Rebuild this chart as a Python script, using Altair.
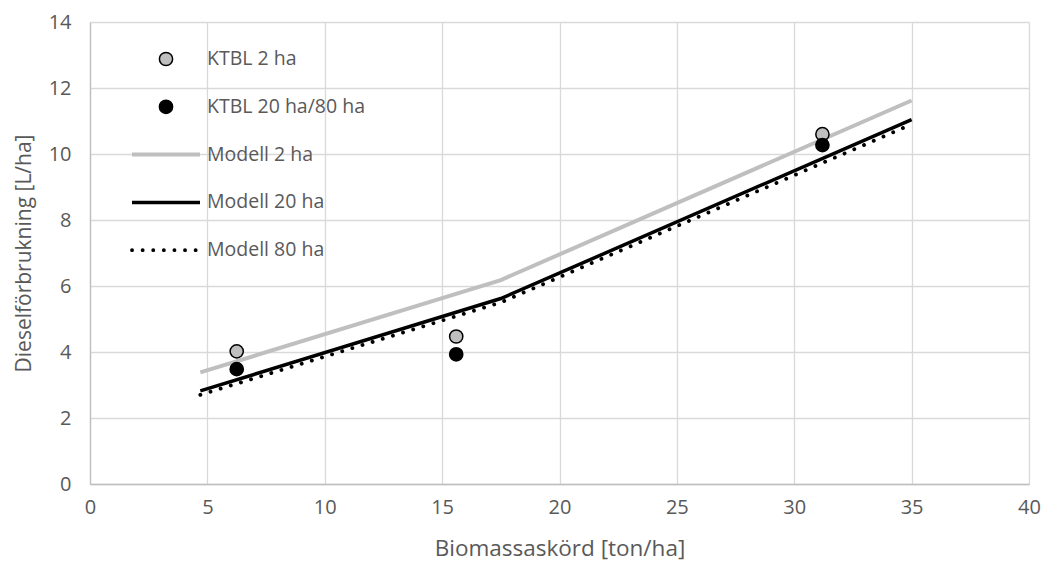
import altair as alt
import pandas as pd

# KTBL reference values
ktbl_x = [6.25, 15.6, 31.2]
ktbl_2ha = [4.02, 4.47, 10.6]
ktbl_20_80ha = [3.48, 3.93, 10.27]

# Model curves (break point near 17.5 ton/ha)
model_x = [4.7, 17.5, 35.0]
model_2ha = [3.38, 6.18, 11.62]
model_20ha = [2.82, 5.62, 11.04]
model_80ha = [2.70, 5.50, 10.90]

FONT = "Open Sans"
TXT = "#595959"
GRID = "#d9d9d9"
GREY = "#bfbfbf"

x_scale = alt.Scale(domain=[0, 40], nice=False)
y_scale = alt.Scale(domain=[0, 14], nice=False)
x_axis = alt.Axis(title="Biomassaskörd [ton/ha]", values=list(range(0, 41, 5)), labelFlush=False)
y_axis = alt.Axis(title="Dieselförbrukning [L/ha]", values=list(range(0, 15, 2)), labelFlush=False)


def line_layer(ys, color, width, dash=None):
    df = pd.DataFrame({"x": model_x, "y": ys})
    kw = dict(color=color, strokeWidth=width)
    if dash:
        kw.update(strokeDash=dash, strokeCap="round")
    return alt.Chart(df).mark_line(**kw).encode(
        x=alt.X("x:Q", scale=x_scale, axis=x_axis),
        y=alt.Y("y:Q", scale=y_scale, axis=y_axis),
    )


def point_layer(ys, fill):
    df = pd.DataFrame({"x": ktbl_x, "y": ys})
    return alt.Chart(df).mark_point(
        filled=True, fill=fill, stroke="black", strokeWidth=1.5, size=175, opacity=1
    ).encode(x=alt.X("x:Q", scale=x_scale), y=alt.Y("y:Q", scale=y_scale))


layers = [
    line_layer(model_2ha, GREY, 4),
    line_layer(model_80ha, "black", 3.8, [0.1, 10.5]),
    line_layer(model_20ha, "black", 3.5),
    point_layer(ktbl_2ha, GREY),
    point_layer(ktbl_20_80ha, "black"),
]

# Legend inside the plot area, top left
legend_labels = ["KTBL 2 ha", "KTBL 20 ha/80 ha", "Modell 2 ha", "Modell 20 ha", "Modell 80 ha"]
row0, row_step = 37, 47.8
sym_x, line_x0, line_x1, text_x = 76, 42, 110, 117
anchor = alt.Chart(pd.DataFrame({"a": [0]}))
for i, lab in enumerate(legend_labels):
    yy = row0 + i * row_step
    layers.append(
        anchor.mark_text(align="left", baseline="middle", font=FONT, fontSize=19.5, color=TXT).encode(
            x=alt.value(text_x), y=alt.value(yy), text=alt.value(lab)
        )
    )
    if i < 2:
        fill = GREY if i == 0 else "black"
        layers.append(
            anchor.mark_point(filled=True, fill=fill, stroke="black", strokeWidth=1.5, size=175, opacity=1).encode(
                x=alt.value(sym_x), y=alt.value(yy)
            )
        )
    else:
        kw = {
            2: dict(color=GREY, strokeWidth=4),
            3: dict(color="black", strokeWidth=3.5),
            4: dict(color="black", strokeWidth=3.8, strokeDash=[0.1, 10.5], strokeCap="round"),
        }[i]
        layers.append(
            anchor.mark_rule(**kw).encode(x=alt.value(line_x0), x2=alt.value(line_x1), y=alt.value(yy))
        )

chart = alt.layer(*layers).properties(
    width=939,
    height=462,
    autosize=alt.AutoSizeParams(type="none"),
    padding={"left": 90, "top": 22, "right": 14, "bottom": 77},
).configure_view(stroke=None).configure_axis(
    grid=True,
    gridColor=GRID,
    gridWidth=1.3,
    domainColor=GREY,
    domainWidth=1.3,
    ticks=False,
    labelFont=FONT,
    labelFontSize=20,
    labelColor=TXT,
    titleFont=FONT,
    titleFontWeight="normal",
    titleColor=TXT,
).configure_axisX(labelPadding=13, titlePadding=20, titleFontSize=22.5).configure_axisY(
    labelPadding=19, titlePadding=14, titleFontSize=21
)

chart.save("out.html", embed_options={"renderer": "svg", "actions": False})
